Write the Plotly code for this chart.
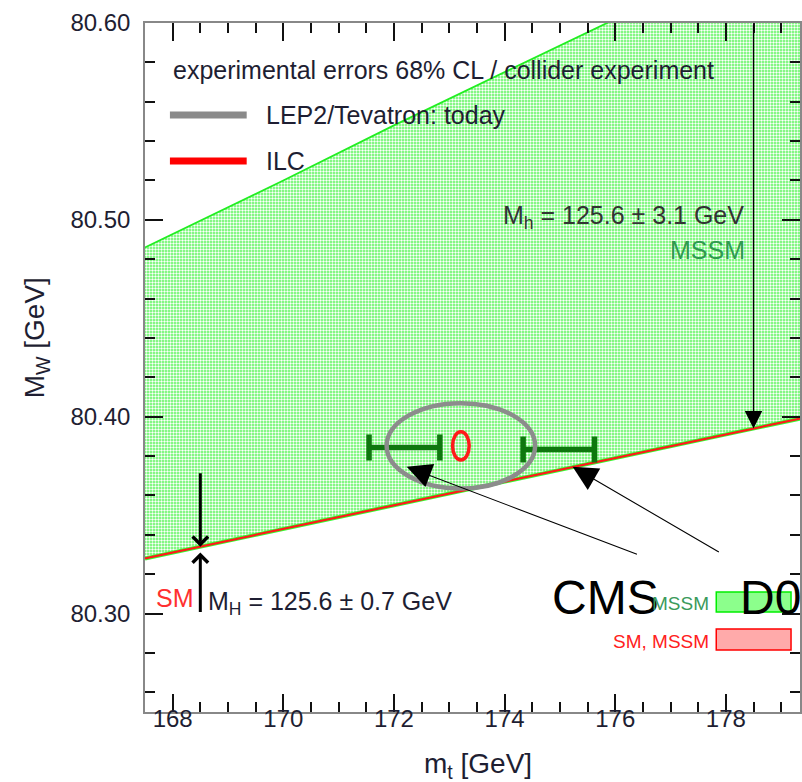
import plotly.graph_objects as go

# ---------------- data ----------------
mt_grid = [167.5, 170.0, 172.0, 174.0, 176.0, 178.0, 180.0]
mw_mssm_upper = [80.486, 80.520, 80.548, 80.575, 80.602, 80.630, 80.657]
mw_sm_line = [80.328, 80.343, 80.355, 80.367, 80.379, 80.391, 80.403]

# experimental points (m_t, M_W, errors)
cms_mt, cms_mw, cms_dmt = 172.19, 80.3843, 0.64
d0_mt, d0_mw, d0_dmt = 174.98, 80.3833, 0.645
lep_mt, lep_mw, lep_dmt, lep_dmw = 173.21, 80.3852, 1.342, 0.0217
ilc_mt, ilc_mw, ilc_dmt, ilc_dmw = 173.21, 80.3852, 0.15, 0.0072

# Higgs-mass arrows
sm_arrow_mt = 168.5
sm_arrow_down_from = 80.372
sm_arrow_up_from = 80.300
sm_arrow_target = 80.334
mssm_arrow_mt = 178.5
mssm_arrow_from = 80.600
mssm_arrow_target = 80.394

x_range = [167.5, 179.34]
y_range = [80.25, 80.60]
y_ticks = [80.30, 80.40, 80.50, 80.60]
y_ticklabels = ["80.30", "80.40", "80.50", "80.60"]
x_ticks = [168, 170, 172, 174, 176, 178]
x_ticklabels = ["168", "170", "172", "174", "176", "178"]

FONT = "Liberation Sans, Arial, Helvetica, sans-serif"
TXT = "#1e1e32"

W, H = 802, 782
L, R, T, B = 145, 0, 23, 70
PW, PH = W - L - R, H - T - B


def px(x):
    return (x - L) / PW


def py(y):
    return (H - B - y) / PH


fig = go.Figure()

# lower edge (green border) then MSSM band filled to upper edge
fig.add_trace(go.Scatter(x=mt_grid, y=mw_sm_line, mode="lines",
                         line=dict(color="#33ff33", width=4), showlegend=False,
                         hoverinfo="skip"))
fig.add_trace(go.Scatter(x=mt_grid, y=mw_mssm_upper, mode="lines", fill="tonexty",
                         line=dict(color="#22ee22", width=1.8),
                         fillcolor="#66ff66",
                         fillpattern=dict(shape=".", fgcolor="white", bgcolor="#5cf55c",
                                          size=3, solidity=0.5, fillmode="replace"),
                         showlegend=False, hoverinfo="skip"))
# SM line (red)
fig.add_trace(go.Scatter(x=mt_grid, y=mw_sm_line, mode="lines",
                         line=dict(color="#ff1a1a", width=2.2), showlegend=False,
                         hoverinfo="skip"))

# CMS and D0 error bars
for m, w, d in [(cms_mt, cms_mw, cms_dmt), (d0_mt, d0_mw, d0_dmt)]:
    fig.add_trace(go.Scatter(x=[m], y=[w], mode="markers",
                             marker=dict(size=1, color="rgba(0,0,0,0)"),
                             error_x=dict(type="data", array=[d], color="#0f770f",
                                          thickness=5.5, width=13),
                             showlegend=False, hoverinfo="skip"))

# empty trace that binds the tick-label axis
fig.add_trace(go.Scatter(x=[], y=[], xaxis="x2", yaxis="y", mode="markers",
                         showlegend=False, hoverinfo="skip"))

shapes = []
# LEP2/Tevatron ellipse
shapes.append(dict(type="circle", xref="x", yref="y",
                   x0=lep_mt - lep_dmt, x1=lep_mt + lep_dmt,
                   y0=lep_mw - lep_dmw, y1=lep_mw + lep_dmw,
                   line=dict(color="#8c8c8c", width=4.5)))
# ILC ellipse
shapes.append(dict(type="circle", xref="x", yref="y",
                   x0=ilc_mt - ilc_dmt, x1=ilc_mt + ilc_dmt,
                   y0=ilc_mw - ilc_dmw, y1=ilc_mw + ilc_dmw,
                   line=dict(color="#ff1a1a", width=3.5)))
# legend lines (top-left)
shapes.append(dict(type="line", xref="paper", yref="paper", x0=px(170), x1=px(247),
                   y0=py(115), y1=py(115), line=dict(color="#8a8a8a", width=7)))
shapes.append(dict(type="line", xref="paper", yref="paper", x0=px(170), x1=px(247),
                   y0=py(161), y1=py(161), line=dict(color="#ff0000", width=7)))
# legend boxes (bottom-right)
shapes.append(dict(type="rect", xref="paper", yref="paper", x0=px(718), x1=px(793),
                   y0=py(612), y1=py(592), fillcolor="#8cff8c",
                   line=dict(color="#00ee00", width=1.5)))
shapes.append(dict(type="rect", xref="paper", yref="paper", x0=px(718), x1=px(793),
                   y0=py(650), y1=py(629), fillcolor="#ffaaaa",
                   line=dict(color="#ff0000", width=1.5)))

ann = []


def txt(text, x, y, size=25, color=TXT, xanchor="left", yanchor="middle", **kw):
    ann.append(dict(text=text, x=px(x), y=py(y), xref="paper", yref="paper",
                    showarrow=False, xanchor=xanchor, yanchor=yanchor,
                    font=dict(family=FONT, size=size, color=color), **kw))


txt("experimental errors 68% CL / collider experiment", 171, 70)
txt("LEP2/Tevatron: today", 264, 115)
txt("ILC", 264, 161)
txt("M<sub>h</sub> = 125.6 ± 3.1 GeV", 748, 217, xanchor="right", color="#333333")
txt("MSSM", 749, 250, xanchor="right", color="#2f9a4f")
txt("SM", 196, 598, color="#ff3030", xanchor="right")
txt("M<sub>H</sub> = 125.6 ± 0.7 GeV", 206, 603)
txt("CMS", 607, 597, size=48, color="black", xanchor="center")
txt("D0", 740, 597, size=48, color="black")
txt("MSSM", 713, 603, size=19, color="#3a9a5a", xanchor="right")
txt("SM, MSSM", 713, 641, size=19, color="#ff2020", xanchor="right")
txt("0", -14, 778, size=48, color="black", yanchor="top")
# axis titles
txt("m<sub>t</sub> [GeV]", 479, 766, size=28, xanchor="center")
txt("M<sub>W</sub> [GeV]", 36, 338, size=28, xanchor="center", textangle=-90)

# arrows (data driven)
arrow_common = dict(xref="x", yref="y", axref="x", ayref="y", text="", showarrow=True)
ann.append(dict(x=sm_arrow_mt, y=sm_arrow_target, ax=sm_arrow_mt, ay=sm_arrow_down_from,
                arrowhead=4, arrowsize=1.0, arrowwidth=3, arrowcolor="black", **arrow_common))
ann.append(dict(x=sm_arrow_mt, y=sm_arrow_target - 0.003, ax=sm_arrow_mt, ay=sm_arrow_up_from,
                arrowhead=4, arrowsize=1.0, arrowwidth=3, arrowcolor="black", **arrow_common))
ann.append(dict(x=mssm_arrow_mt, y=mssm_arrow_target, ax=mssm_arrow_mt, ay=mssm_arrow_from,
                arrowhead=2, arrowsize=2.5, arrowwidth=1.4, arrowcolor="black", **arrow_common))
# CMS / D0 pointers
ann.append(dict(x=cms_mt + 0.04, y=cms_mw - 0.0097, ax=176.42, ay=80.3298,
                arrowhead=2, arrowsize=4.5, arrowwidth=1.1, arrowcolor="black", **arrow_common))
ann.append(dict(x=d0_mt + 0.25, y=d0_mw - 0.0087, ax=177.90, ay=80.3308,
                arrowhead=2, arrowsize=4.5, arrowwidth=1.1, arrowcolor="black", **arrow_common))

axis_common = dict(showgrid=False, zeroline=False, showline=True, linecolor="#888888",
                   linewidth=1.5, mirror="ticks", ticks="inside", ticklen=18,
                   tickwidth=1.5, tickcolor="#111111",
                   tickfont=dict(family=FONT, size=24, color=TXT))

fig.update_xaxes(range=x_range, tickmode="array", tickvals=x_ticks, ticktext=x_ticklabels,
                 showticklabels=False,
                 minor=dict(dtick=0.5, tick0=168, ticks="inside", ticklen=10,
                            tickwidth=1.5, tickcolor="#111111"),
                 **axis_common)
fig.update_yaxes(range=y_range, tickmode="array", tickvals=y_ticks, ticktext=y_ticklabels,
                 minor=dict(dtick=0.02, tick0=80.26, ticks="inside", ticklen=10,
                            tickwidth=1.5, tickcolor="#111111"),
                 ticklabelstandoff=8, **axis_common)

fig.update_layout(
    width=W, height=H, margin=dict(l=L, r=R, t=T, b=B),
    plot_bgcolor="white", paper_bgcolor="white",
    xaxis2=dict(overlaying="x", anchor="free", position=10 / PH, side="bottom",
                range=x_range, tickmode="array", tickvals=x_ticks, ticktext=x_ticklabels,
                showgrid=False, zeroline=False, showline=False, ticks="",
                tickfont=dict(family=FONT, size=24, color=TXT)),
    shapes=shapes, annotations=ann, showlegend=False)

fig.write_html("out.html")
